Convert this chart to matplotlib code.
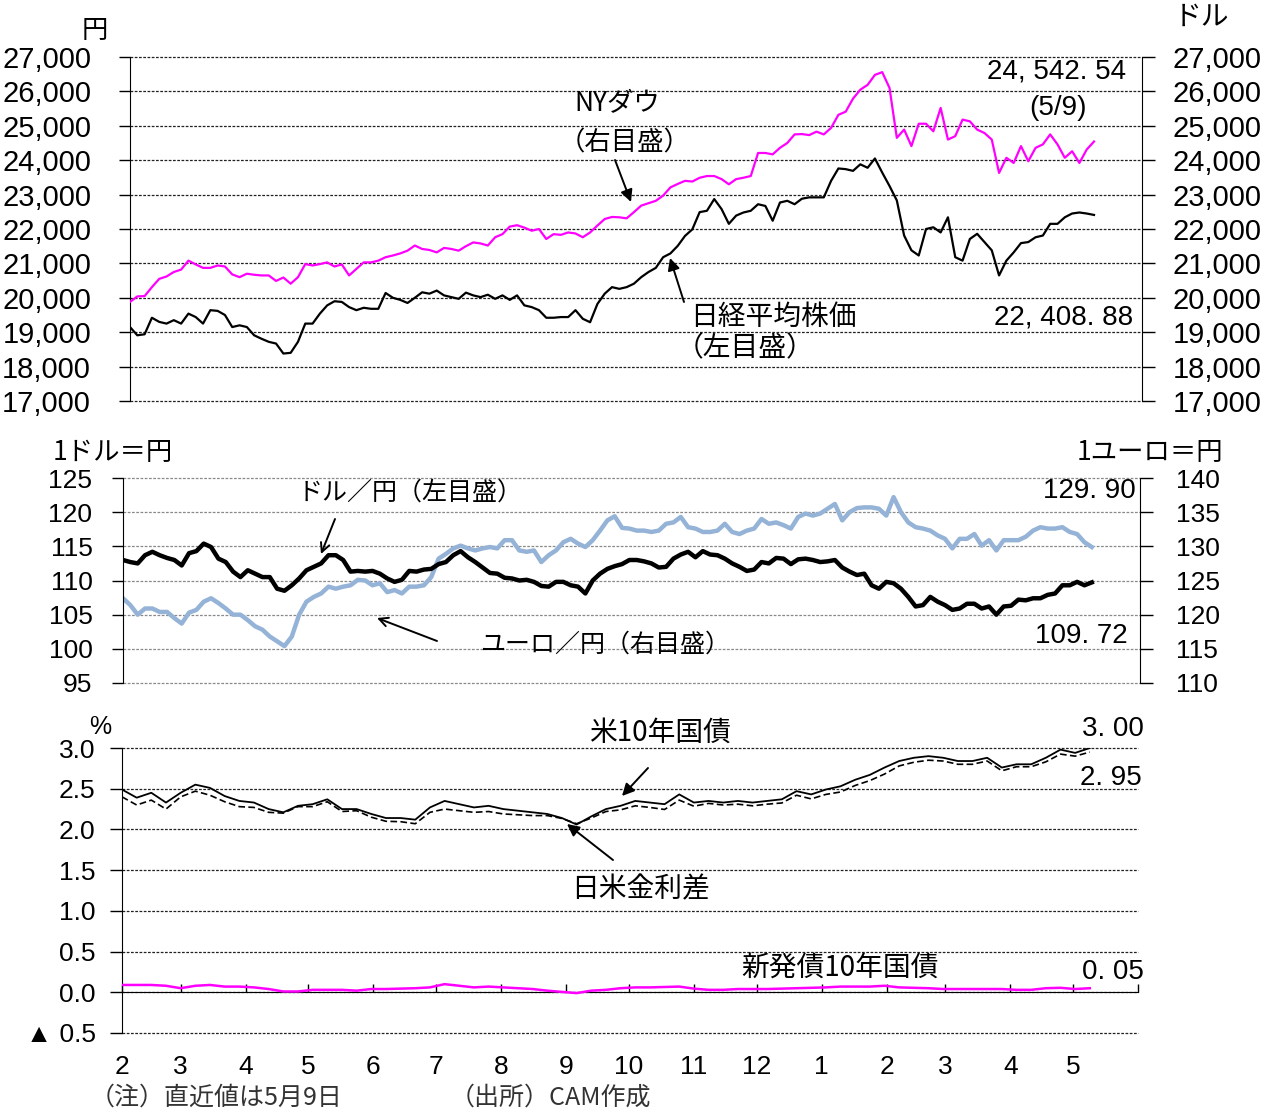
import numpy as np
import pandas as pd
import matplotlib
matplotlib.use('Agg')
import matplotlib.pyplot as plt

# ---------------- data ----------------
# top & middle panels: twice-weekly readings, 2017-02-01 .. 2018-05-09
# bottom panel: weekly readings over the same span
start_date = '2017-02-01'
end_date = '2018-05-09'
month_labels = ['2', '3', '4', '5', '6', '7', '8', '9', '10', '11', '12',
                '1', '2', '3', '4', '5', '']

nikkei = [19150, 18910, 18940, 19420, 19300, 19250, 19350, 19250, 19540, 19440,
          19250, 19640, 19620, 19500, 19150, 19200, 19150, 18910, 18810, 18720,
          18670, 18380, 18400, 18720, 19250, 19250, 19540, 19780, 19900, 19880,
          19730, 19640, 19710, 19680, 19680, 20140, 20000, 19940, 19850, 20000,
          20160, 20120, 20210, 20070, 20020, 19970, 20150, 20070, 20020, 20090,
          19970, 20070, 19940, 20070, 19780, 19730, 19640, 19420, 19420, 19440,
          19440, 19640, 19390, 19290, 19820, 20120, 20310, 20260, 20310, 20410,
          20600, 20750, 20870, 21180, 21290, 21510, 21800, 21990, 22490, 22530,
          22870, 22580, 22150, 22390, 22480, 22530, 22720, 22670, 22240, 22770,
          22820, 22720, 22880, 22920, 22920, 22920, 23400, 23760, 23740, 23690,
          23880, 23780, 24050, 23640, 23250, 22830, 21810, 21380, 21230, 22000,
          22050, 21900, 22340, 21180, 21080, 21710, 21860, 21620, 21380, 20650,
          21080, 21320, 21590, 21620, 21760, 21810, 22150, 22150, 22340, 22450,
          22480, 22450, 22408.88]

ny_dow = [19880, 20040, 20050, 20310, 20550, 20620, 20750, 20820, 21080, 20970,
          20870, 20870, 20940, 20910, 20680, 20600, 20700, 20670, 20650, 20650,
          20490, 20590, 20410, 20600, 20980, 20940, 20980, 21030, 20910, 20970,
          20650, 20840, 21030, 21030, 21080, 21180, 21230, 21290, 21370, 21520,
          21420, 21390, 21320, 21450, 21420, 21370, 21500, 21610, 21580, 21520,
          21760, 21850, 22070, 22110, 22040, 21950, 22000, 21710, 21850, 21830,
          21900, 21870, 21760, 21900, 22100, 22290, 22350, 22340, 22310, 22490,
          22680, 22750, 22820, 22970, 23210, 23310, 23400, 23380, 23490, 23540,
          23540, 23450, 23300, 23450, 23490, 23540, 24210, 24210, 24170, 24360,
          24500, 24750, 24760, 24730, 24830, 24750, 24940, 25320, 25410, 25790,
          26050, 26190, 26480, 26560, 26100, 24650, 24890, 24410, 25060, 25060,
          24840, 25520, 24600, 24700, 25180, 25130, 24890, 24790, 24600, 23630,
          24070, 23920, 24410, 23970, 24360, 24460, 24750, 24460, 24070, 24260,
          23920, 24310, 24542.54]

usd_jpy = [113.0, 112.7, 112.5, 113.7, 114.2, 113.7, 113.3, 113.0, 112.2, 114.0,
           114.3, 115.4, 114.9, 113.2, 112.7, 111.3, 110.5, 111.5, 111.0, 110.5,
           110.5, 108.8, 108.5, 109.3, 110.3, 111.5, 112.0, 112.5, 113.7, 113.7,
           113.0, 111.3, 111.4, 111.3, 111.4, 111.0, 110.3, 109.8, 110.1, 111.4,
           111.3, 111.6, 111.7, 112.4, 112.7, 113.7, 114.3, 113.4, 112.7, 111.9,
           111.1, 111.0, 110.4, 110.3, 110.0, 110.1, 109.8, 109.2, 109.1, 109.8,
           109.8, 109.3, 109.1, 108.1, 110.0, 111.0, 111.7, 112.1, 112.4, 113.0,
           113.0, 112.8, 112.5, 111.9, 112.0, 113.2, 113.8, 114.2, 113.4, 114.3,
           113.8, 113.7, 113.2, 112.5, 112.0, 111.4, 111.6, 112.7, 112.5, 113.3,
           113.2, 112.4, 113.1, 113.2, 113.0, 112.7, 112.8, 113.0, 111.9, 111.3,
           110.8, 111.0, 109.3, 108.8, 109.8, 109.6, 108.8, 107.6, 106.2, 106.4,
           107.6, 106.9, 106.4, 105.7, 105.9, 106.6, 106.6, 105.9, 106.2, 105.0,
           106.2, 106.3, 107.2, 107.1, 107.4, 107.4, 107.9, 108.1, 109.3, 109.3,
           109.8, 109.3, 109.72]

eur_jpy = [122.4, 121.4, 120.0, 120.9, 120.9, 120.4, 120.4, 119.5, 118.7, 120.3,
           120.7, 121.9, 122.4, 121.7, 120.9, 120.0, 120.0, 119.2, 118.3, 117.8,
           116.8, 116.1, 115.4, 116.8, 120.0, 121.9, 122.6, 123.1, 124.1, 123.8,
           124.1, 124.3, 125.1, 125.0, 124.3, 124.6, 123.3, 123.6, 123.1, 124.1,
           124.1, 124.3, 125.5, 128.2, 128.9, 129.7, 130.1, 129.7, 129.4, 129.7,
           129.9, 129.7, 130.9, 130.9, 129.4, 129.2, 129.4, 127.7, 128.7, 129.4,
           130.6, 131.1, 130.4, 129.9, 130.9, 132.3, 133.8, 134.4, 132.7, 132.6,
           132.3, 132.3, 132.1, 132.3, 133.3, 133.5, 134.3, 132.8, 132.6, 132.1,
           132.1, 132.3, 133.3, 132.1, 131.8, 132.3, 132.6, 134.0, 133.3, 133.5,
           133.1, 132.6, 134.3, 134.8, 134.5, 134.8, 135.5, 136.2, 133.8, 135.0,
           135.6, 135.7, 135.7, 135.5, 134.5, 137.2, 135.0, 133.5, 132.8, 132.6,
           132.3, 131.6, 131.1, 129.7, 131.1, 131.1, 131.8, 130.1, 130.9, 129.4,
           130.9, 130.9, 130.9, 131.4, 132.3, 132.8, 132.6, 132.6, 132.8, 132.1,
           131.8, 130.6, 129.90]

us10y = [2.49, 2.39, 2.45, 2.33, 2.45, 2.55, 2.51, 2.41, 2.35, 2.33,
         2.25, 2.21, 2.29, 2.31, 2.37, 2.25, 2.25, 2.19, 2.14, 2.14,
         2.12, 2.27, 2.35, 2.31, 2.27, 2.29, 2.25, 2.23, 2.21, 2.19,
         2.14, 2.06, 2.16, 2.25, 2.29, 2.35, 2.33, 2.31, 2.43, 2.33,
         2.35, 2.33, 2.35, 2.33, 2.35, 2.37, 2.47, 2.43, 2.49, 2.53,
         2.61, 2.67, 2.76, 2.84, 2.88, 2.90, 2.88, 2.84, 2.84, 2.88,
         2.76, 2.80, 2.80, 2.88, 2.98, 2.94, 3.00]

jgb10y = [0.09, 0.09, 0.09, 0.08, 0.05, 0.08, 0.09, 0.07, 0.07, 0.06,
          0.04, 0.01, 0.01, 0.03, 0.03, 0.03, 0.02, 0.04, 0.04, 0.045,
          0.05, 0.06, 0.10, 0.08, 0.06, 0.07, 0.06, 0.05, 0.04, 0.02,
          0.005, -0.01, 0.02, 0.03, 0.05, 0.06, 0.06, 0.065, 0.07, 0.045,
          0.03, 0.03, 0.04, 0.04, 0.04, 0.045, 0.05, 0.055, 0.06, 0.07,
          0.07, 0.07, 0.08, 0.06, 0.055, 0.05, 0.04, 0.04, 0.04, 0.04,
          0.04, 0.03, 0.03, 0.05, 0.055, 0.04, 0.05]

# ---------------- setup ----------------
W, H = 1266, 1115
plt.rcParams['font.family'] = ['Liberation Sans', 'Noto Sans CJK JP', 'DejaVu Sans']
JP = ['Noto Sans CJK JP', 'DejaVu Sans']
NARROW = ['Liberation Sans Narrow', 'Liberation Sans', 'DejaVu Sans']

dates_hw = pd.date_range(start_date, end_date, freq='84h')
dates_w = pd.date_range(start_date, end_date, freq='7D')
for s in (nikkei, ny_dow, usd_jpy, eur_jpy):
    assert len(s) == len(dates_hw), len(s)
for s in (us10y, jgb10y):
    assert len(s) == len(dates_w), len(s)

spread = np.array(us10y) - np.array(jgb10y)
xmin, xmax = pd.Timestamp('2017-02-01'), pd.Timestamp('2018-06-01')
month_ticks = pd.date_range('2017-02-01', '2018-06-01', freq='MS')

fig = plt.figure(figsize=(W / 100, H / 100), dpi=100)


def rect(l, t, r, b):
    return [l / W, 1 - b / H, (r - l) / W, (b - t) / H]


def fx(x):
    return x / W


def fy(y):
    return 1 - y / H


def txt(x, y, s, size, ha='center', va='center', family=JP, **kw):
    fig.text(fx(x), fy(y), s, fontsize=size, ha=ha, va=va, family=family, **kw)


def arrow(tail, tip, style='-|>', lw=1.4, ms=18):
    fig.add_artist(matplotlib.patches.FancyArrowPatch(
        (fx(tail[0]), fy(tail[1])), (fx(tip[0]), fy(tip[1])),
        transform=fig.transFigure, arrowstyle=style, color='black',
        lw=lw, mutation_scale=ms, shrinkA=0, shrinkB=0))


GRID = dict(linestyle=(0, (2.2, 1.2)), linewidth=0.9)


def unclip_grid(ax):
    for gl in ax.get_ygridlines():
        gl.set_clip_on(False)


# ---------------- top panel ----------------
ax1 = fig.add_axes(rect(130, 57, 1142, 401))
ax1r = ax1.twinx()
ax1.plot(dates_hw, nikkei, color='black', lw=1.6, zorder=3)
ax1r.plot(dates_hw, ny_dow, color='#FF00FF', lw=1.6, zorder=3)
for a in (ax1, ax1r):
    a.set_xlim(xmin, xmax)
    a.set_ylim(17000, 27000)
    a.set_yticks(np.arange(17000, 27001, 1000))
    a.set_xticks([])
    a.yaxis.set_major_formatter(matplotlib.ticker.FuncFormatter(lambda v, p: f'{int(v):,}'))
    for s in ('top', 'bottom'):
        a.spines[s].set_visible(False)
ax1.spines['right'].set_visible(False)
ax1r.spines['left'].set_visible(False)
ax1.yaxis.grid(True, color='#222222', **GRID)
unclip_grid(ax1)
ax1.tick_params(axis='y', direction='out', length=8, width=1, pad=20, labelsize=21)
ax1r.tick_params(axis='y', direction='out', length=9, width=1, pad=13, labelsize=21)
ax1.set_axisbelow(True)

txt(95, 30, '円', 19)
txt(1201, 17, 'ドル', 20)
txt(617, 104, 'NYダウ', 19)
txt(625, 143, '（右目盛）', 19)
arrow((615, 160), (631, 202))
txt(773, 317, '日経平均株価', 20)
txt(745, 348, '（左目盛）', 20)
arrow((684, 302), (670, 258))
txt(1126, 72, '24, 542. 54', 20, ha='right', family=NARROW)
txt(1058, 108, '(5/9)', 20, family=NARROW)
txt(1133, 318, '22, 408. 88', 20, ha='right', family=NARROW)

# ---------------- middle panel ----------------
ax2 = fig.add_axes(rect(123, 478, 1140, 683))
ax2r = ax2.twinx()
ax2r.plot(dates_hw, eur_jpy, color='#95B3D7', lw=3.2, zorder=3)
ax2.plot(dates_hw, usd_jpy, color='black', lw=3.2, zorder=3)
ax2.set_zorder(ax2r.get_zorder() + 1)
ax2.patch.set_visible(False)
ax2.set_ylim(95, 125)
ax2.set_yticks(np.arange(95, 126, 5))
ax2r.set_ylim(110, 140)
ax2r.set_yticks(np.arange(110, 141, 5))
for a in (ax2, ax2r):
    a.set_xlim(xmin, xmax)
    a.set_xticks([])
    for s in ('top', 'bottom'):
        a.spines[s].set_visible(False)
ax2.spines['right'].set_visible(False)
ax2r.spines['left'].set_visible(False)
ax2r.yaxis.grid(True, color='#8a8a8a', **GRID)
unclip_grid(ax2r)
ax2r.set_axisbelow(True)
ax2.tick_params(axis='y', direction='out', length=8, width=1, pad=14, labelsize=19)
ax2r.tick_params(axis='y', direction='out', length=9, width=1, pad=17, labelsize=19)

txt(113, 452, '1ドル＝円', 19)
txt(1150, 452, '1ユーロ＝円', 19)
txt(410, 493, 'ドル／円（左目盛）', 18)
arrow((335, 519), (321, 554), style='->', lw=1.4, ms=16)
txt(605, 645, 'ユーロ／円（右目盛）', 18)
arrow((437, 641), (377, 618), style='->', lw=1.4, ms=16)
txt(1136, 491, '129. 90', 20, ha='right', family=NARROW)
txt(1128, 636, '109. 72', 20, ha='right', family=NARROW)

# ---------------- bottom panel ----------------
ax3 = fig.add_axes(rect(122, 748, 1138, 1033))
ax3.plot(dates_w, spread, color='black', lw=1.2, linestyle=(0, (4, 2)), zorder=3)
ax3.plot(dates_w, us10y, color='black', lw=1.3, zorder=4)
ax3.plot(dates_w, jgb10y, color='#FF00FF', lw=1.8, zorder=4)
ax3.set_xlim(xmin, xmax)
ax3.set_ylim(-0.5, 3.0)
yt = np.arange(-0.5, 3.01, 0.5)
ax3.set_yticks(yt)
ax3.set_yticklabels(['▲ 0.5' if v < 0 else f'{v:.1f}' for v in yt])
ax3.yaxis.grid(True, color='#222222', **GRID)
unclip_grid(ax3)
ax3.set_axisbelow(True)
ax3.spines['top'].set_visible(False)
ax3.spines['right'].set_visible(False)
ax3.spines['bottom'].set_position(('data', 0))
ax3.spines['bottom'].set_zorder(2)
ax3.set_xticks(month_ticks)
ax3.set_xticklabels(month_labels)
ax3.tick_params(axis='x', direction='in', length=6, width=1, pad=45, labelsize=19)
ax3.tick_params(axis='y', direction='out', length=9, width=1, pad=10, labelsize=19)

txt(100, 727, '%', 18, family=['Liberation Sans', 'DejaVu Sans'])
txt(660, 733, '米10年国債', 20)
arrow((648, 768), (622, 796))
txt(640, 889, '日米金利差', 20)
arrow((613, 860), (567, 824))
txt(840, 968, '新発債10年国債', 20)
txt(1144, 729, '3. 00', 20, ha='right', family=NARROW)
txt(1142, 778, '2. 95', 20, ha='right', family=NARROW)
txt(1144, 972, '0. 05', 20, ha='right', family=NARROW)

txt(90, 1098, '（注）直近値は5月9日', 18, ha='left', color='#333333')
txt(450, 1098, '（出所）CAM作成', 18, ha='left', color='#333333')

fig.savefig('out.png', dpi=100)
